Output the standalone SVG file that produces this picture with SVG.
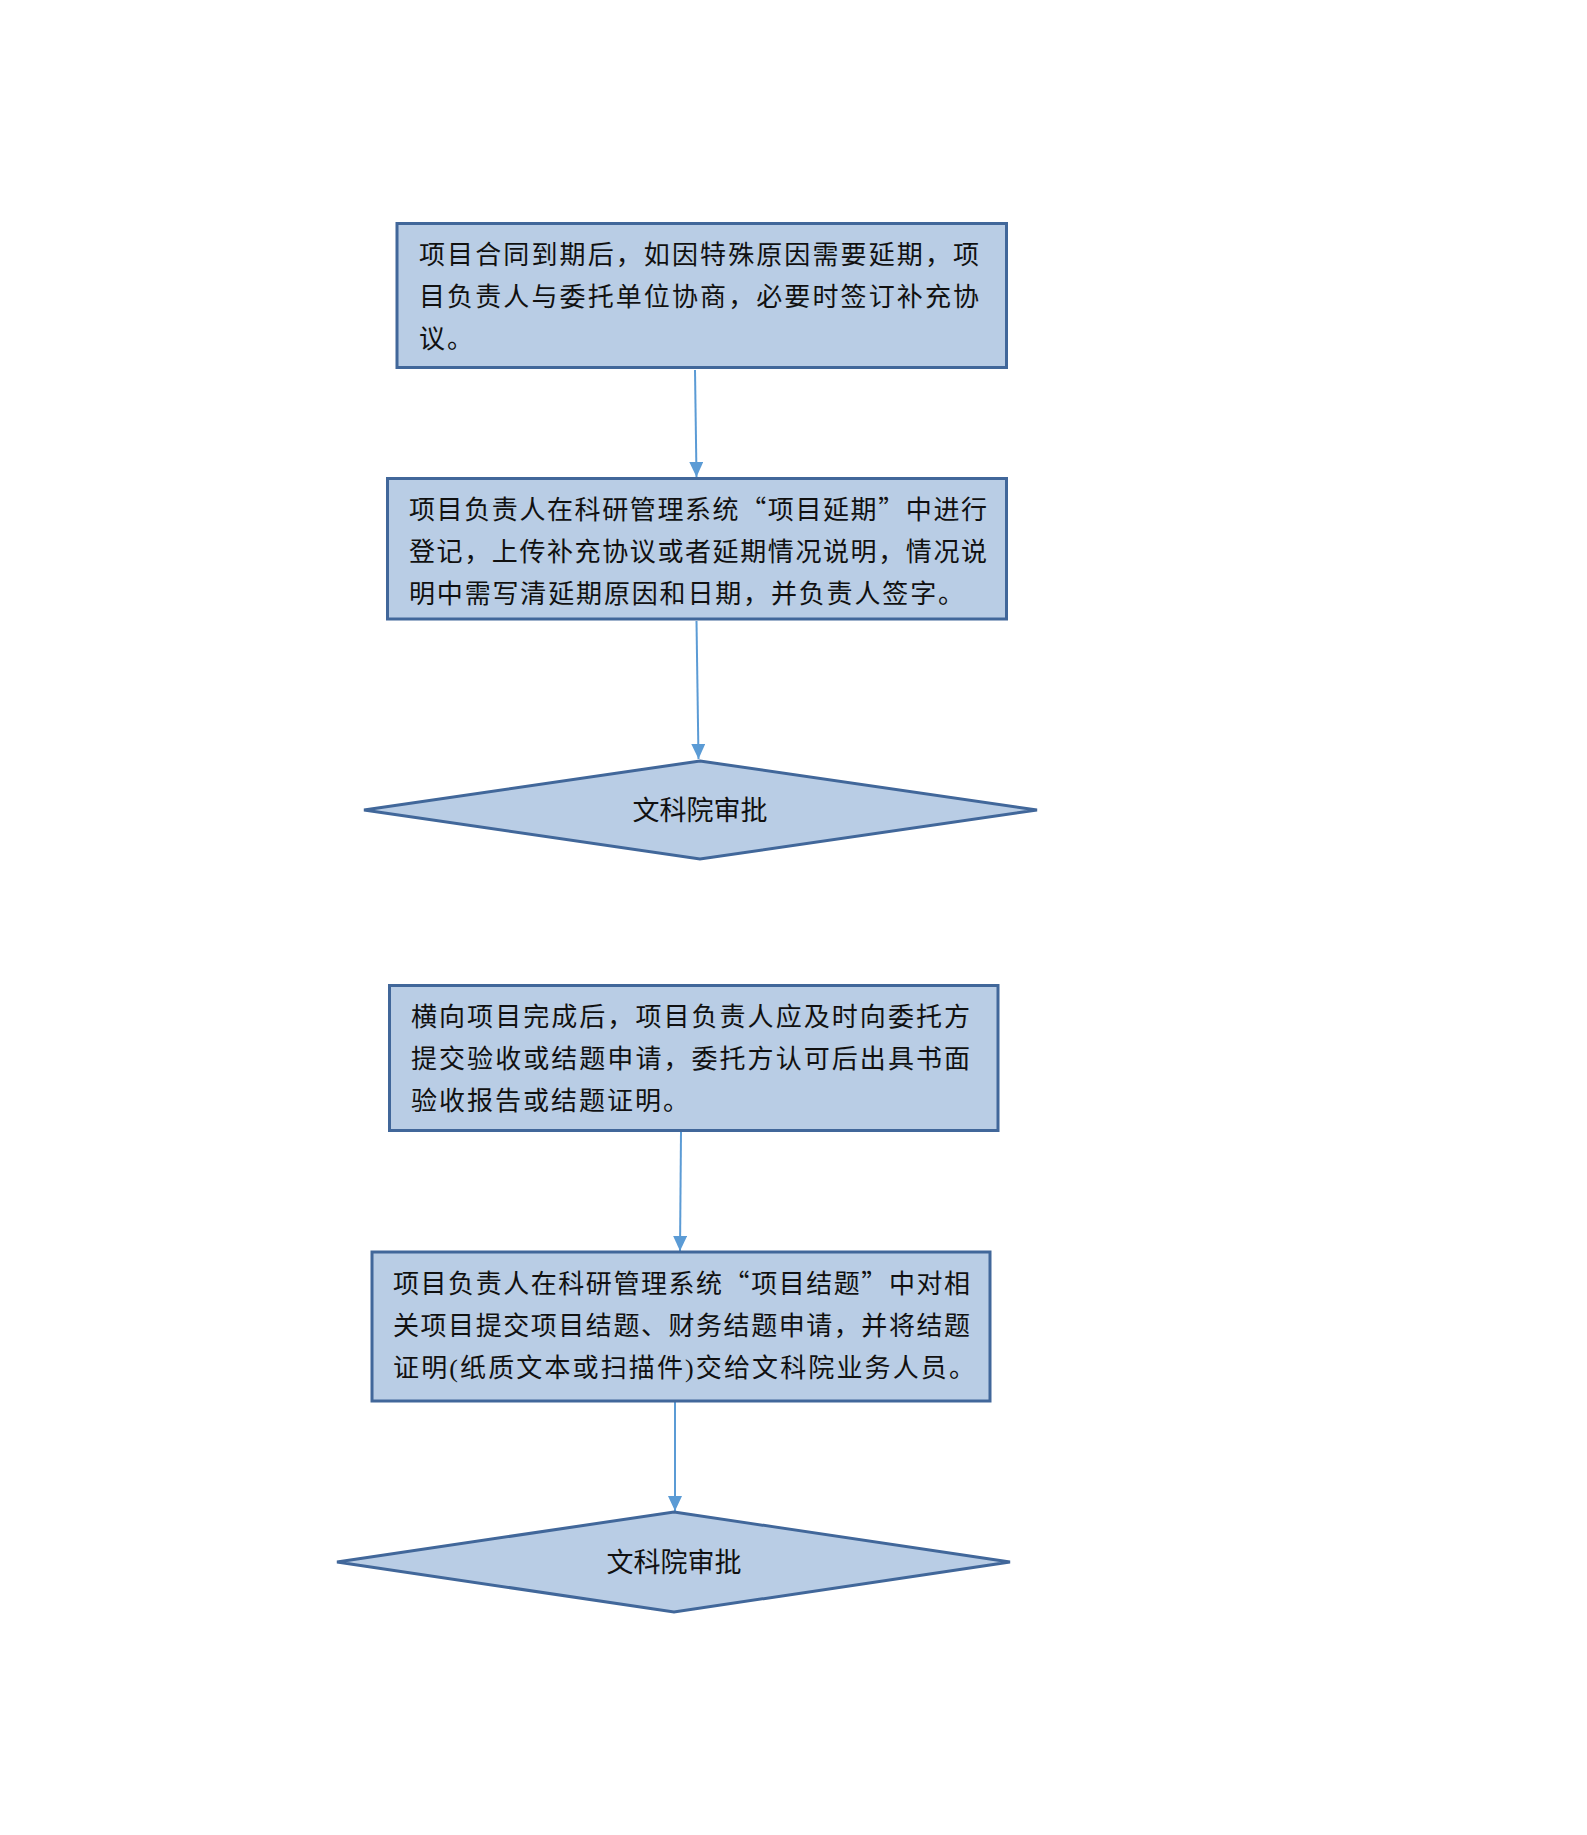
<svg xmlns="http://www.w3.org/2000/svg" width="1587" height="1835" viewBox="0 0 1587 1835">
<style>
.box{fill:#B9CDE5;stroke:#41679A;stroke-width:3}
.t{font-family:"Liberation Serif","Noto Sans CJK SC",serif;font-size:26px;fill:#111}
.c{font-family:"Liberation Serif","Noto Sans CJK SC",serif;font-size:27px;fill:#111;text-anchor:middle}
.q{font-family:"Noto Sans CJK SC",sans-serif}
.p{letter-spacing:2px}
.ln{stroke:#5B9BD5;stroke-width:2;fill:none}
</style>
<defs>
<marker id="ah" markerUnits="userSpaceOnUse" markerWidth="14" markerHeight="15" refX="15" refY="7" orient="auto">
<path d="M0,0 L15,7 L0,14 z" fill="#5B9BD5"/>
</marker>
</defs>
<rect width="1587" height="1835" fill="#fff"/>
<g id="connectors">
<line class="ln" x1="695" y1="370" x2="696.5" y2="477" marker-end="url(#ah)"/>
<line class="ln" x1="696.5" y1="621" x2="698.5" y2="759" marker-end="url(#ah)"/>
<line class="ln" x1="681" y1="1132" x2="680" y2="1251" marker-end="url(#ah)"/>
<line class="ln" x1="675" y1="1402" x2="675" y2="1511" marker-end="url(#ah)"/>
</g>
<g id="n1">
<rect class="box" x="397" y="223.5" width="609.5" height="144"/>
<text class="t" x="419" y="264" textLength="560" lengthAdjust="spacing">项目合同到期后，如因特殊原因需要延期，项</text>
<text class="t" x="419" y="306" textLength="560" lengthAdjust="spacing">目负责人与委托单位协商，必要时签订补充协</text>
<text class="t p" x="419" y="348">议。</text>
</g>
<g id="n2">
<rect class="box" x="387.5" y="478.5" width="619" height="140.5"/>
<text class="t" x="409" y="519" textLength="578" lengthAdjust="spacing">项目负责人在科研管理系统<tspan class="q">“</tspan>项目延期<tspan class="q">”</tspan>中进行</text>
<text class="t" x="409" y="561" textLength="578" lengthAdjust="spacing">登记，上传补充协议或者延期情况说明，情况说</text>
<text class="t" x="409" y="603" textLength="555" lengthAdjust="spacing">明中需写清延期原因和日期，并负责人签字。</text>
</g>
<g id="n3">
<polygon class="box" points="700,761 1037,810 700,859 364,810"/>
<text class="c" x="700" y="820">文科院审批</text>
</g>
<g id="n4">
<rect class="box" x="389.5" y="985.5" width="608.5" height="145"/>
<text class="t" x="411" y="1026" textLength="559" lengthAdjust="spacing">横向项目完成后，项目负责人应及时向委托方</text>
<text class="t" x="411" y="1068" textLength="559" lengthAdjust="spacing">提交验收或结题申请，委托方认可后出具书面</text>
<text class="t p" x="411" y="1110">验收报告或结题证明。</text>
</g>
<g id="n5">
<rect class="box" x="372" y="1252" width="618" height="149"/>
<text class="t" x="393" y="1293" textLength="577" lengthAdjust="spacing">项目负责人在科研管理系统<tspan class="q">“</tspan>项目结题<tspan class="q">”</tspan>中对相</text>
<text class="t" x="393" y="1335" textLength="577" lengthAdjust="spacing">关项目提交项目结题、财务结题申请，并将结题</text>
<text class="t" x="393" y="1377" textLength="582" lengthAdjust="spacing">证明(纸质文本或扫描件)交给文科院业务人员。</text>
</g>
<g id="n6">
<polygon class="box" points="674,1512 1010,1562 674,1612 337,1562"/>
<text class="c" x="674" y="1572">文科院审批</text>
</g>
</svg>
